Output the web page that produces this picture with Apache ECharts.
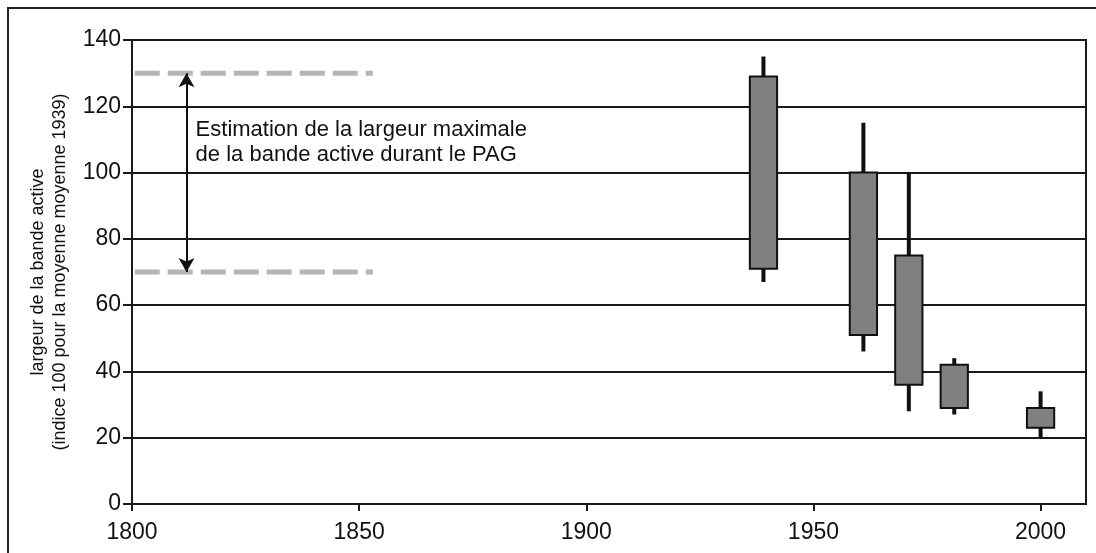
<!DOCTYPE html>
<html>
<head>
<meta charset="utf-8">
<script src="https://cdn.jsdelivr.net/npm/echarts@6/dist/echarts.min.js"></script>
<style>
html,body{margin:0;padding:0;background:#fff;}
#chart{width:1096px;height:553px;}
</style>
</head>
<body>
<div id="chart"></div>
<script>
// Years (x positions of each box)
const years = [1939, 1961, 1971, 1981, 2000];
// Whisker minimum, box bottom, box top, whisker maximum
const whiskerLow  = [67, 46, 28, 27, 20];
const boxLow      = [71, 51, 36, 29, 23];
const boxHigh     = [129, 100, 75, 42, 29];
const whiskerHigh = [135, 115, 100, 44, 34];
// PAG estimate band (upper / lower), extent of dashed lines, arrow position
const pagBounds = [130, 70];
const pagLineExtent = [1800.6, 1853];
const pagArrowYear = 1812;
const annotationText = ['Estimation de la largeur maximale', 'de la bande active durant le PAG'];
const annotationPos = [1814, 109];
const xTicks = [1800, 1850, 1900, 1950, 2000];
const yTitle = ['largeur de la bande active', '(indice 100 pour la moyenne moyenne 1939)'];
const boxWidthYears = 6;

const FONT = "'Liberation Sans', Arial, sans-serif";
const boxData = years.map((y, i) => [y, whiskerLow[i], boxLow[i], boxHigh[i], whiskerHigh[i]]);

const chart = echarts.init(document.getElementById('chart'), null, {renderer: 'canvas'});
chart.setOption({
  animation: false,
  backgroundColor: '#ffffff',
  textStyle: {fontFamily: FONT},
  grid: {left: 132, right: 10, top: 40, bottom: 49, show: true, borderColor: '#1a1a1a', borderWidth: 2, backgroundColor: 'transparent'},
  graphic: [{
    type: 'rect', silent: true, z: 100,
    shape: {x: 8, y: 8, width: 3000, height: 3000},
    style: {fill: 'none', stroke: '#222', lineWidth: 2}
  }],
  xAxis: {
    type: 'value', min: 1800, max: 2010, interval: 50,
    axisLine: {show: true, lineStyle: {color: '#1a1a1a', width: 2}},
    axisTick: {show: true, length: 7, lineStyle: {color: '#1a1a1a', width: 2}, customValues: xTicks},
    axisLabel: {color: '#111', fontSize: 23, fontFamily: FONT, margin: 17, customValues: xTicks,
                formatter: function (v) { return String(v); }},
    splitLine: {show: false}
  },
  yAxis: {
    type: 'value', min: 0, max: 140, interval: 20,
    name: yTitle.join('\n'),
    nameLocation: 'middle', nameRotate: 90, nameGap: 61,
    nameTextStyle: {color: '#111', fontSize: 18, fontFamily: FONT, lineHeight: 22, align: 'center'},
    axisLine: {show: true, lineStyle: {color: '#1a1a1a', width: 2}},
    axisTick: {show: true, length: 9, lineStyle: {color: '#1a1a1a', width: 2}},
    axisLabel: {color: '#111', fontSize: 23, fontFamily: FONT, margin: 11},
    splitLine: {show: true, lineStyle: {color: '#1a1a1a', width: 2}}
  },
  series: [
    {
      type: 'line', silent: true, symbol: 'none', z: 3,
      data: [[pagLineExtent[0], pagBounds[0]], [pagLineExtent[1], pagBounds[0]]],
      lineStyle: {color: '#b5b5b5', width: 5, type: [25, 8]}
    },
    {
      type: 'line', silent: true, symbol: 'none', z: 3,
      data: [[pagLineExtent[0], pagBounds[1]], [pagLineExtent[1], pagBounds[1]]],
      lineStyle: {color: '#b5b5b5', width: 5, type: [25, 8]}
    },
    {
      type: 'custom', silent: true, z: 5,
      data: [annotationPos],
      renderItem: function (params, api) {
        const p = api.coord([api.value(0), api.value(1)]);
        return {
          type: 'text', x: p[0], y: p[1],
          style: {
            text: annotationText.join('\n'), fill: '#111', font: '22px ' + FONT,
            lineHeight: 25, align: 'left', verticalAlign: 'middle'
          }
        };
      },
      markLine: {
        silent: true, symbol: ['arrow', 'arrow'], symbolSize: [12, 14],
        label: {show: false},
        lineStyle: {color: '#111', width: 2, type: 'solid'},
        data: [[{coord: [pagArrowYear, pagBounds[0]]}, {coord: [pagArrowYear, pagBounds[1]]}]]
      }
    },
    {
      type: 'custom', z: 10,
      data: boxData,
      encode: {x: 0, y: [1, 2, 3, 4]},
      renderItem: function (params, api) {
        const x = api.value(0);
        const pLow = api.coord([x, api.value(1)]);
        const pQ1 = api.coord([x, api.value(2)]);
        const pQ3 = api.coord([x, api.value(3)]);
        const pHigh = api.coord([x, api.value(4)]);
        const w = api.size([boxWidthYears, 0])[0];
        return {
          type: 'group',
          children: [
            {type: 'line', shape: {x1: pLow[0], y1: pLow[1], x2: pHigh[0], y2: pHigh[1]},
             style: {stroke: '#111', lineWidth: 4}},
            {type: 'rect', shape: {x: pQ3[0] - w / 2, y: pQ3[1], width: w, height: pQ1[1] - pQ3[1]},
             style: {fill: '#808080', stroke: '#111', lineWidth: 2}}
          ]
        };
      }
    }
  ]
});
</script>
</body>
</html>
